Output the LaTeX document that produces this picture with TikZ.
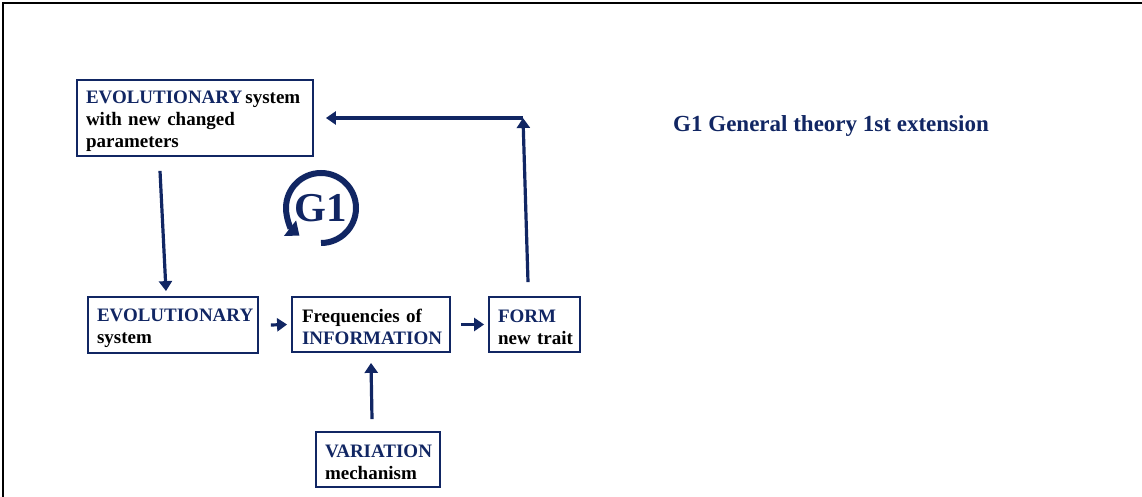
\documentclass[tikz,border=0pt]{standalone}
\usepackage{fontspec}
\setmainfont{Liberation Serif}
\usetikzlibrary{positioning, arrows.meta}
\definecolor{navy}{RGB}{17,38,99}
\newcommand{\lowstrut}{\rule{0pt}{19pt}}

\begin{document}
\begin{tikzpicture}[x=1pt, y=-1pt,
					box/.style={draw=navy, line width=1.8pt, inner xsep=9pt, inner ysep=0pt, align=left,
						font=\fontsize{19}{22}\selectfont\bfseries},
					arr/.style={draw=navy, line width=3.2pt, -{Triangle[length=10pt, width=13pt]}},
					hl/.style={text=navy}
					]
					\useasboundingbox (0,0) rectangle (1142,497);
					\draw[line width=1.8pt] (3,497) -- (3,3) -- (1142,3);
					\node[box, text width=218pt, minimum height=76pt] (evoNew) at (195,118)
					{\lowstrut\textcolor{navy}{EVOLUTIONARY}\,system\\with new changed\\parameters};
					\node[box, text width=152pt, minimum height=56pt] (evoSys) at (173,325)
					{\lowstrut\textcolor{navy}{EVOLUTIONARY}\\system};
					\node[box, inner xsep=10pt, text width=138pt, minimum height=55pt] (freqInfo) at (371,324.5)
					{\lowstrut Frequencies of\\\textcolor{navy}{INFORMATION}};
					\node[box, inner xsep=9pt, text width=73pt, minimum height=55pt] (formTrait) at (534.5,324.5)
					{\lowstrut\textcolor{navy}{FORM}\\new~trait};
					\node[box, inner xsep=9pt, text width=106pt, minimum height=55pt] (varMech) at (378,459.5)
					{\lowstrut\textcolor{navy}{VARIATION}\\mechanism};
					\node[hl, font=\fontsize{23}{26}\selectfont\bfseries] (title) at (831,126)
					{G1 General theory 1st extension};
					% G1 cycle
					\node[hl, font=\fontsize{41}{44}\selectfont\bfseries] (gOne) at (321,208) {G1};
					\draw[navy, line width=6pt, -{Triangle[length=12pt, width=19pt]}]
					([yshift=-35pt]gOne.center) arc[start angle=-90, end angle=232, radius=35pt];
					% connectors
					\draw[arr] ([xshift=-35pt, yshift=-14pt]evoNew.south) -- ([xshift=-7pt, yshift=5pt]evoSys.north);
					\draw[arr] ([xshift=12pt]evoSys.east) -- ([xshift=-4pt]freqInfo.west);
					\draw[arr] ([xshift=10pt]freqInfo.east) -- ([xshift=-4pt]formTrait.west);
					\draw[arr] ([xshift=-6pt, yshift=12pt]varMech.north) -- ([yshift=-10pt]freqInfo.south);
					\coordinate (corner) at (523,118);
					\draw[arr] ([xshift=-6.5pt, yshift=14pt]formTrait.north) -- (corner);
					\draw[arr] (corner) -- ([xshift=12pt]evoNew.east);
				\end{tikzpicture}
\end{document}
